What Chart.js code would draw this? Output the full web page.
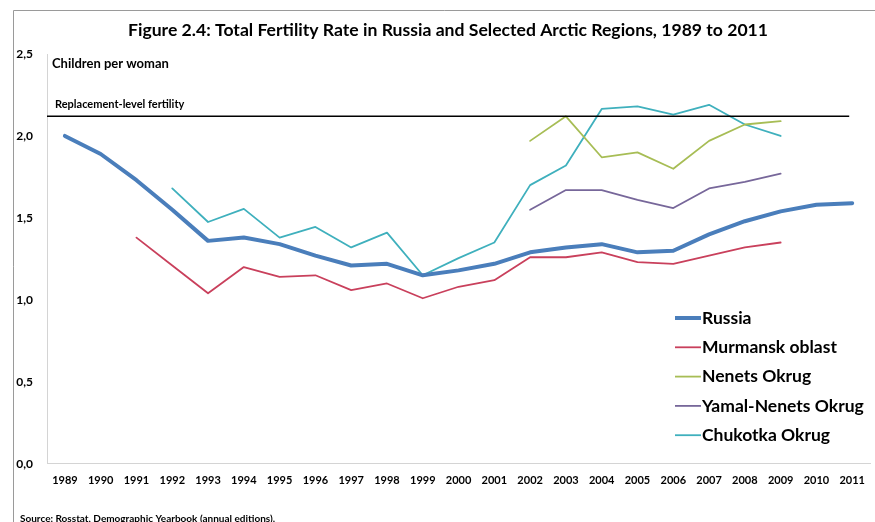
<!DOCTYPE html>
<html>
<head>
<meta charset="utf-8">
<script src="https://cdn.jsdelivr.net/npm/chart.js@4.4.1/dist/chart.umd.min.js"></script>
<style>
  html, body { margin: 0; padding: 0; background: #fff; }
</style>
</head>
<body>
<canvas id="myChart" width="875" height="522"></canvas>
<script>
// years on the category axis
const years = ['1989','1990','1991','1992','1993','1994','1995','1996','1997','1998','1999',
               '2000','2001','2002','2003','2004','2005','2006','2007','2008','2009','2010','2011'];

// total fertility rate, children per woman
const russia    = [2.00,1.89,1.73,1.55,1.36,1.38,1.34,1.27,1.21,1.22,1.15,1.18,1.22,1.29,1.32,1.34,1.29,1.30,1.40,1.48,1.54,1.58,1.59];
const murmansk  = [null,null,1.38,1.21,1.04,1.20,1.14,1.15,1.06,1.10,1.01,1.08,1.12,1.26,1.26,1.29,1.23,1.22,1.27,1.32,1.35,null,null];
const nenets    = [null,null,null,null,null,null,null,null,null,null,null,null,null,1.97,2.12,1.87,1.90,1.80,1.97,2.07,2.09,null,null];
const yamal     = [null,null,null,null,null,null,null,null,null,null,null,null,null,1.55,1.67,1.67,1.61,1.56,1.68,1.72,1.77,null,null];
const chukotka  = [null,null,null,1.68,1.475,1.555,1.38,1.445,1.32,1.41,1.15,1.255,1.35,1.70,1.82,2.165,2.18,2.13,2.19,2.07,2.00,null,null];

const replacementLevel = 2.12;
const yTicks = [0, 0.5, 1, 1.5, 2, 2.5];

const FONT = 'Lato, "Open Sans", sans-serif';

// title, frame, reference line, notes, legend and source line
const overlay = {
  id: 'overlay',
  afterDraw(chart) {
    const ctx = chart.ctx;
    const area = chart.chartArea;
    const xs = chart.scales.x, ys = chart.scales.y;
    ctx.save();

    // outer frame
    ctx.strokeStyle = '#9a9a9a';
    ctx.lineWidth = 1;
    ctx.beginPath();
    ctx.moveTo(13.5, 522);
    ctx.lineTo(13.5, 10.5);
    ctx.lineTo(875, 10.5);
    ctx.stroke();

    ctx.fillStyle = '#000';
    ctx.textBaseline = 'middle';
    ctx.textAlign = 'center';
    ctx.font = 'bold 17.6px ' + FONT;
    ctx.fillText('Figure 2.4: Total Fertility Rate in Russia and Selected Arctic Regions, 1989 to 2011', 448, 30);

    // replacement-level fertility line
    const ry = ys.getPixelForValue(replacementLevel);
    ctx.strokeStyle = '#000';
    ctx.lineWidth = 1.5;
    ctx.beginPath();
    ctx.moveTo(area.left, ry);
    ctx.lineTo(xs.getPixelForValue(years.length - 1) - 3, ry);
    ctx.stroke();

    ctx.textAlign = 'left';
    ctx.font = 'bold 11px ' + FONT;
    ctx.fillText('Replacement-level fertility', area.left + 8, ry - 12);
    ctx.font = 'bold 13px ' + FONT;
    ctx.fillText('Children per woman', area.left + 5, 64);

    // legend
    let ly = 318;
    chart.data.datasets.forEach(ds => {
      ctx.strokeStyle = ds.borderColor;
      ctx.lineWidth = ds.borderWidth;
      ctx.beginPath();
      ctx.moveTo(675, ly);
      ctx.lineTo(701, ly);
      ctx.stroke();
      ctx.fillStyle = '#000';
      ctx.font = 'bold 17.5px ' + FONT;
      ctx.fillText(ds.label, 702, ly);
      ly += 29.3;
    });

    // source
    ctx.font = 'bold 10px ' + FONT;
    ctx.fillText('Source: Rosstat, Demographic Yearbook (annual editions).', 20, 519);
    ctx.restore();
  }
};

const ctx = document.getElementById('myChart').getContext('2d');
const chart = new Chart(ctx, {
  type: 'line',
  data: {
    labels: years,
    datasets: [
      { label: 'Russia',             data: russia,   borderColor: '#4a7ebb', borderWidth: 4 },
      { label: 'Murmansk oblast',    data: murmansk, borderColor: '#c9405c', borderWidth: 1.8 },
      { label: 'Nenets Okrug',       data: nenets,   borderColor: '#a7bd55', borderWidth: 1.8 },
      { label: 'Yamal-Nenets Okrug', data: yamal,    borderColor: '#77679a', borderWidth: 1.8 },
      { label: 'Chukotka Okrug',     data: chukotka, borderColor: '#3fb0bd', borderWidth: 1.8 }
    ]
  },
  options: {
    responsive: false,
    animation: false,
    spanGaps: false,
    elements: {
      point: { radius: 0 },
      line: { tension: 0, borderJoinStyle: 'round', borderCapStyle: 'round' }
    },
    layout: { padding: { left: 0, right: 1, top: 54, bottom: 25 } },
    plugins: {
      legend: { display: false },
      tooltip: { enabled: false },
      title: { display: false }
    },
    scales: {
      x: {
        offset: true,
        grid: { display: false, drawTicks: false },
        border: { display: true, color: '#d4d4d4', width: 1 },
        ticks: {
          color: '#000',
          font: { family: FONT, size: 11, weight: 'bold' },
          padding: 10,
          maxRotation: 0,
          autoSkip: false
        }
      },
      y: {
        min: 0,
        max: 2.5,
        afterBuildTicks(scale) { scale.ticks = yTicks.map(v => ({ value: v })); },
        afterFit(scale) { scale.width = 47; },
        grid: { display: false, drawTicks: false },
        border: { display: true, color: '#d4d4d4', width: 1 },
        ticks: {
          color: '#000',
          font: { family: FONT, size: 12, weight: 'bold' },
          padding: 14,
          callback: v => v.toFixed(1).replace('.', ',')
        }
      }
    }
  },
  plugins: [overlay]
});
</script>
</body>
</html>
